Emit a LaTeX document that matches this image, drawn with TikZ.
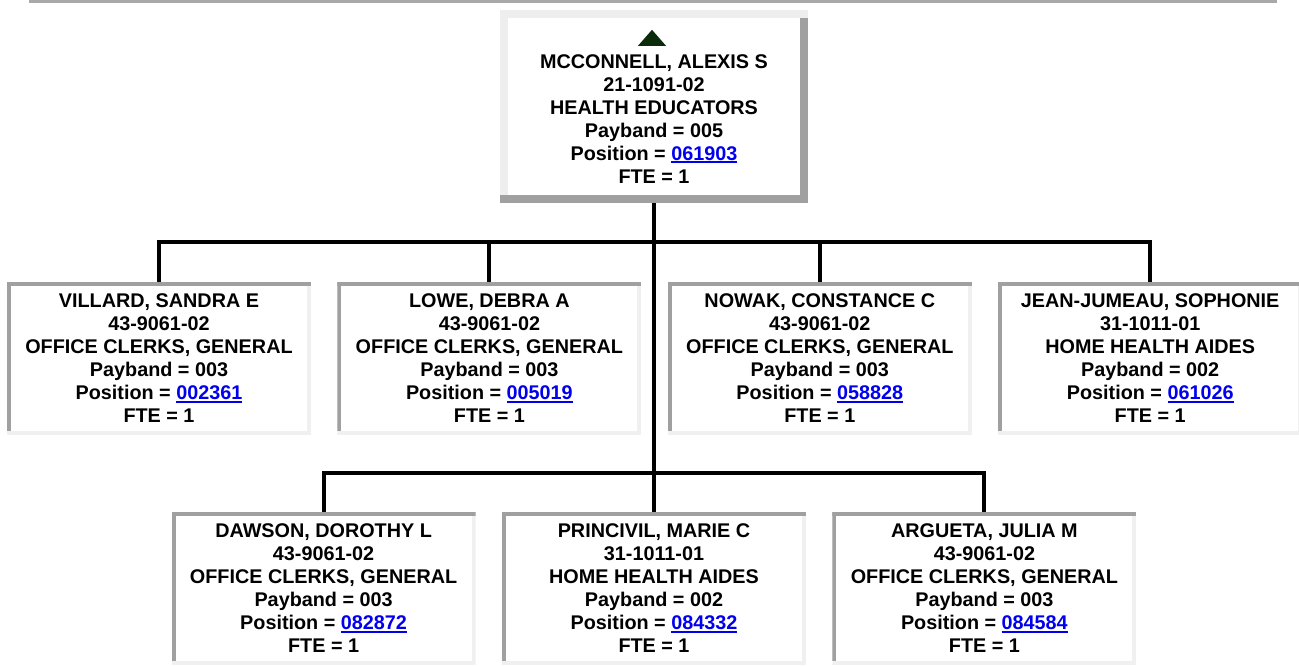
\documentclass[tikz,border=0pt]{standalone}
\usepackage{fontspec}
\usepackage{xcolor}
\definecolor{orgrule}{HTML}{A8A8A8}
\definecolor{orgdark}{HTML}{A0A0A0}
\definecolor{orglight}{HTML}{F0F0F0}
\definecolor{orghead}{HTML}{EEEEEE}
\definecolor{orglink}{HTML}{0000EE}
\definecolor{orgmark}{HTML}{0B2B0B}
\newfontfamily\orgfont{Liberation Sans}
\newcommand\poslink[1]{\textcolor{orglink}{\setbox0\hbox{#1}\rlap{\rule[-2.6pt]{\wd0}{1.6pt}}\box0}}
\usepackage{tikz}
\usetikzlibrary{positioning}

\tikzset{
  staffbox/.style={minimum width=304pt,minimum height=153pt,inner sep=0pt,align=center,
    font=\orgfont\bfseries\fontsize{19.8}{23}\selectfont,
    path picture={
      \fill[orglight] (path picture bounding box.south west) rectangle (path picture bounding box.north east);
      \fill[orgdark] ([yshift=4pt]path picture bounding box.south west) rectangle ([xshift=-4pt]path picture bounding box.north east);
      \fill[orgdark] ([yshift=-4pt]path picture bounding box.north west) rectangle (path picture bounding box.north east);
      \fill[white] ([shift={(4pt,4pt)}]path picture bounding box.south west) rectangle ([shift={(-4pt,-4pt)}]path picture bounding box.north east);
    }},
  headbox/.style={staffbox,minimum width=308pt,minimum height=193pt,
    path picture={
      \fill[orgdark] (path picture bounding box.south west) rectangle (path picture bounding box.north east);
      \fill[orghead] ([yshift=8pt]path picture bounding box.south west) rectangle ([xshift=-8pt]path picture bounding box.north east);
      \fill[orghead] ([yshift=-8pt]path picture bounding box.north west) rectangle (path picture bounding box.north east);
      \fill[white] ([shift={(8pt,8pt)}]path picture bounding box.south west) rectangle ([shift={(-8pt,-8pt)}]path picture bounding box.north east);
    }},
  orgline/.style={line width=4pt,black},
}

\begin{document}
\begin{tikzpicture}[x=1pt,y=-1pt,node distance=5mm and 26pt]
\useasboundingbox (0,0) rectangle (1299,665);
\fill[orgrule] (29,0) rectangle (1277,2.7);

% head of unit
\node[headbox] (root) at (654,106.5) {\rule{0pt}{15pt}\\MCCONNELL, ALEXIS S\\21-1091-02\\HEALTH EDUCATORS\\Payband = 005\\Position = \poslink{061903}\\FTE = 1};
\fill[orgmark] ([shift={(-16pt,-36pt)}]root.north) -- ([shift={(12pt,-36pt)}]root.north) -- ([shift={(-2pt,-20pt)}]root.north) -- cycle;

% first row
\node[staffbox] (v1) at (159,358.5) {VILLARD, SANDRA E\\43-9061-02\\OFFICE CLERKS, GENERAL\\Payband = 003\\Position = \poslink{002361}\\FTE = 1};
\node[staffbox,right=of v1] (v2) {LOWE, DEBRA A\\43-9061-02\\OFFICE CLERKS, GENERAL\\Payband = 003\\Position = \poslink{005019}\\FTE = 1};
\node[staffbox,right=of v2] (v3) {NOWAK, CONSTANCE C\\43-9061-02\\OFFICE CLERKS, GENERAL\\Payband = 003\\Position = \poslink{058828}\\FTE = 1};
\node[staffbox,right=of v3] (v4) {JEAN-JUMEAU, SOPHONIE\\31-1011-01\\HOME HEALTH AIDES\\Payband = 002\\Position = \poslink{061026}\\FTE = 1};

% second row
\node[staffbox] (w2) at (654,588.5) {PRINCIVIL, MARIE C\\31-1011-01\\HOME HEALTH AIDES\\Payband = 002\\Position = \poslink{084332}\\FTE = 1};
\node[staffbox,left=of w2] (w1) {DAWSON, DOROTHY L\\43-9061-02\\OFFICE CLERKS, GENERAL\\Payband = 003\\Position = \poslink{082872}\\FTE = 1};
\node[staffbox,right=of w2] (w3) {ARGUETA, JULIA M\\43-9061-02\\OFFICE CLERKS, GENERAL\\Payband = 003\\Position = \poslink{084584}\\FTE = 1};

\coordinate (bus1) at (654,242);
\coordinate (bus2) at (654,473);
\draw[orgline] (root.south) -- (w2.north);
\draw[orgline] (v1.north) |- (bus1) -| (v4.north);
\draw[orgline] (v2.north) -- (v2.north |- bus1);
\draw[orgline] (v3.north) -- (v3.north |- bus1);
\draw[orgline] (w1.north) |- (bus2) -| (w3.north);
\end{tikzpicture}
\end{document}
